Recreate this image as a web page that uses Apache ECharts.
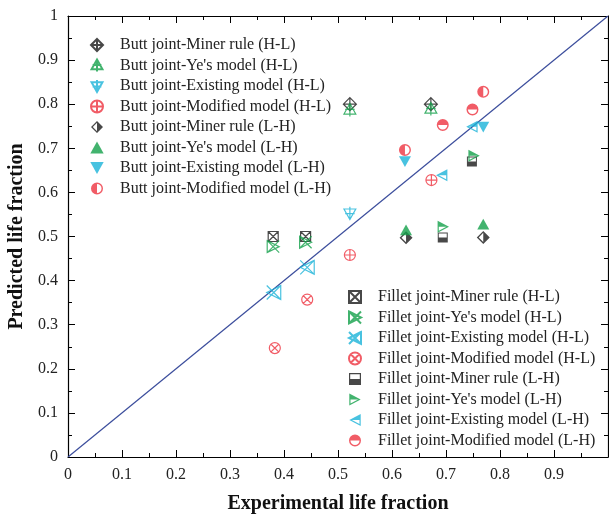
<!DOCTYPE html>
<html>
<head>
<meta charset="utf-8">
<script src="https://cdn.jsdelivr.net/npm/echarts@6/dist/echarts.min.js"></script>
<style>
  html, body { margin: 0; padding: 0; background: #fff; }
  #main { width: 609px; height: 514px; }
</style>
</head>
<body>
<div id="main"></div>
<script>
// 数据
var buttNames = [
  "Butt joint-Miner rule (H-L)", "Butt joint-Ye's model (H-L)",
  "Butt joint-Existing model (H-L)", "Butt joint-Modified model (H-L)",
  "Butt joint-Miner rule (L-H)", "Butt joint-Ye's model (L-H)",
  "Butt joint-Existing model (L-H)", "Butt joint-Modified model (L-H)"
];
var filletNames = [
  "Fillet joint-Miner rule (H-L)", "Fillet joint-Ye's model (H-L)",
  "Fillet joint-Existing model (H-L)", "Fillet joint-Modified model (H-L)",
  "Fillet joint-Miner rule (L-H)", "Fillet joint-Ye's model (L-H)",
  "Fillet joint-Existing model (L-H)", "Fillet joint-Modified model (L-H)"
];

var buttMinerHL = [[0.522, 0.80], [0.672, 0.80]];
var buttYeHL = [[0.522, 0.787], [0.672, 0.789]];
var buttExistHL = [[0.522, 0.553]];
var buttModHL = [[0.522, 0.458], [0.673, 0.628]];
var buttMinerLH = [[0.626, 0.497], [0.769, 0.498]];
var buttYeLH = [[0.626, 0.515], [0.769, 0.528]];
var buttExistLH = [[0.624, 0.670], [0.769, 0.748]];
var buttModLH = [[0.624, 0.696], [0.769, 0.828]];

var filletMinerHL = [[0.38, 0.50], [0.44, 0.50]];
var filletYeHL = [[0.38, 0.477], [0.44, 0.487]];
var filletExistHL = [[0.381, 0.373], [0.443, 0.43]];
var filletModHL = [[0.383, 0.247], [0.443, 0.357]];
var filletMinerLH = [[0.694, 0.498], [0.748, 0.670]];
var filletYeLH = [[0.695, 0.522], [0.752, 0.683]];
var filletExistLH = [[0.692, 0.639], [0.748, 0.749]];
var filletModLH = [[0.694, 0.753], [0.749, 0.788]];

var diagLine = [[0, 0], [1, 1]];

var BLACK = "#1a1a1a", GREEN = "#13a04a", CYAN = "#1ab3d8", RED = "#ee3340";

// 符号形状
var C = "M-10,0A10,10,0,0,1,10,0A10,10,0,0,1,-10,0Z";
var Cin = "M-7.6,0A7.6,7.6,0,0,0,7.6,0A7.6,7.6,0,0,0,-7.6,0Z";
var sym = {
  crossDiamond: "path://M0,-10L10,0L0,10L-10,0Z M0,-10L0,10 M-10,0L10,0",
  crossTriUp: "path://M0,-10L10,8L-10,8Z M0,-10L0,12 M-8,0L8,0",
  crossTriDown: "path://M-10,-8L10,-8L0,10Z M0,-12L0,10 M-8,0L8,0",
  crossCircle: "path://" + C + " M0,-10L0,10 M-10,0L10,0",
  halfDiamond: "path://M0,-10L10,0L0,10L-10,0Z M0,-7L-7,0L0,7L7,0Z M0,-7L7,0L0,7Z",
  triUp: "path://M0,-10L10,8L-10,8Z",
  triDown: "path://M-10,-8L10,-8L0,10Z",
  halfCircleL: "path://" + C + " " + Cin + " M0,-7.6A7.6,7.6,0,0,0,0,7.6Z",
  xSquare: "path://M-10,-10L10,-10L10,10L-10,10Z M-10,-10L10,10 M10,-10L-10,10",
  xTriRight: "path://M-10,-10L10,0L-10,10Z M-10,-10L10,10 M-10,10L10,-10",
  xTriLeft: "path://M10,-10L-10,0L10,10Z M-10,-10L10,10 M-10,10L10,-10",
  xCircle: "path://" + C + " M-7,-7L7,7 M7,-7L-7,7",
  halfSquare: "path://M-10,-10L10,-10L10,10L-10,10Z M-8,-8L-8,8L8,8L8,-8Z M-8,0L8,0L8,8L-8,8Z",
  halfTriRight: "path://M-9,-10L10,0L-9,10Z M-7,-6.6L-7,6.6L5.6,0Z M-7,-6.6L5.6,0L-7,0Z",
  halfTriLeft: "path://M9,-10L9,10L-10,0Z M7,-6.6L-5.6,0L7,6.6Z M7,-6.6L-5.6,0L7,0Z",
  halfCircleT: "path://" + C + " " + Cin + " M-7.6,0A7.6,7.6,0,0,1,7.6,0Z"
};

function hollow(name, data, symbol, color, size) {
  return {
    name: name, type: "scatter", data: data, symbol: symbol, symbolSize: size || 12,
    symbolKeepAspect: true,
    itemStyle: { color: "transparent", borderColor: color, borderWidth: 1.2 },
    z: 3
  };
}
function solid(name, data, symbol, color, size) {
  return {
    name: name, type: "scatter", data: data, symbol: symbol, symbolSize: size || 12,
    symbolKeepAspect: true,
    itemStyle: { color: color, borderWidth: 0 },
    z: 3
  };
}

var serifFont = "Liberation Serif";
var axisCommon = {
  type: "value", min: 0, max: 1, interval: 0.1,
  axisLine: { show: true, onZero: false, lineStyle: { color: "#000", width: 1.2 } },
  axisTick: { show: true, inside: true, length: 7, lineStyle: { color: "#000", width: 1 } },
  minorTick: { show: true, splitNumber: 2, length: 4, lineStyle: { color: "#000", width: 1 } },
  splitLine: { show: false },
  axisLabel: { show: false }
};
function withOpts(extra) { return Object.assign({}, axisCommon, extra); }

var legendText = { fontFamily: serifFont, fontSize: 16, color: "#222" };

var myChart = echarts.init(document.getElementById("main"));
var option = {
  animation: false,
  grid: { left: 68, right: 1, top: 16, bottom: 57, containLabel: false, outerBoundsMode: "none" },
  legend: [
    {
      data: buttNames, orient: "vertical", left: 85, top: 32,
      itemWidth: 36, itemHeight: 12, itemGap: 4.5, textStyle: legendText, selectedMode: false
    },
    {
      data: filletNames, orient: "vertical", left: 343, top: 284,
      itemWidth: 36, itemHeight: 12, itemGap: 4.5, textStyle: legendText, selectedMode: false
    }
  ],
  xAxis: [
    withOpts({
      position: "bottom",
      name: "Experimental life fraction", nameLocation: "middle", nameGap: 37,
      nameTextStyle: { fontFamily: serifFont, fontSize: 20, fontWeight: "bold", color: "#111" },
      axisLabel: {
        show: true, margin: 10, fontFamily: serifFont, fontSize: 16, color: "#222",
        formatter: function (v) { return v >= 1 ? "" : String(+v.toFixed(1)); }
      }
    }),
    withOpts({ position: "top" })
  ],
  yAxis: [
    withOpts({
      position: "left",
      name: "Predicted life fraction", nameLocation: "middle", nameGap: 33,
      nameTextStyle: { fontFamily: serifFont, fontSize: 20, fontWeight: "bold", color: "#111" },
      axisLabel: {
        show: true, margin: 10, fontFamily: serifFont, fontSize: 16, color: "#222",
        formatter: function (v) { return String(+v.toFixed(1)); }
      }
    }),
    withOpts({ position: "right" })
  ],
  series: [
    {
      type: "line", data: diagLine, symbol: "none", silent: true, z: 1,
      lineStyle: { color: "#3b4d9c", width: 1.2 }
    },
    hollow(buttNames[0], buttMinerHL, sym.crossDiamond, BLACK, 13),
    hollow(buttNames[1], buttYeHL, sym.crossTriUp, GREEN, 13),
    hollow(buttNames[2], buttExistHL, sym.crossTriDown, CYAN, 13),
    hollow(buttNames[3], buttModHL, sym.crossCircle, RED, 11),
    solid(buttNames[4], buttMinerLH, sym.halfDiamond, BLACK, 13),
    solid(buttNames[5], buttYeLH, sym.triUp, GREEN, 12),
    solid(buttNames[6], buttExistLH, sym.triDown, CYAN, 12),
    solid(buttNames[7], buttModLH, sym.halfCircleL, RED, 12),
    hollow(filletNames[0], filletMinerHL, sym.xSquare, BLACK, 10),
    hollow(filletNames[1], filletYeHL, sym.xTriRight, GREEN, 12),
    hollow(filletNames[2], filletExistHL, sym.xTriLeft, CYAN, 14),
    hollow(filletNames[3], filletModHL, sym.xCircle, RED, 11),
    solid(filletNames[4], filletMinerLH, sym.halfSquare, BLACK, 10),
    solid(filletNames[5], filletYeLH, sym.halfTriRight, GREEN, 12),
    solid(filletNames[6], filletExistLH, sym.halfTriLeft, CYAN, 12),
    solid(filletNames[7], filletModLH, sym.halfCircleT, RED, 12)
  ]
};
myChart.setOption(option);
</script>
</body>
</html>
